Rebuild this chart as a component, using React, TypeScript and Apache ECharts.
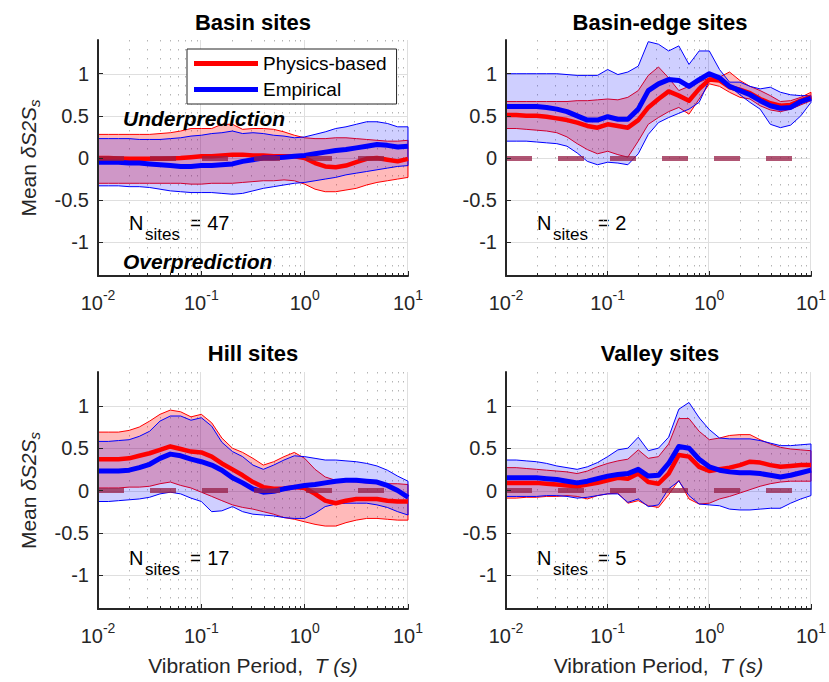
import React, { useEffect, useRef } from 'react';
import * as echarts from 'echarts';

const FONT = '"Liberation Sans", Arial, Helvetica, sans-serif';
const AXIS_COLOR = '#262626';

// Vibration periods (s)
const periods = [0.01, 0.0126, 0.0158, 0.02, 0.0251, 0.0316, 0.0398, 0.0501, 0.0631, 0.0794, 0.1, 0.126, 0.158, 0.2, 0.251, 0.316, 0.398, 0.501, 0.631, 0.794, 1, 1.26, 1.58, 2, 2.51, 3.16, 3.98, 5.01, 6.31, 7.94, 10];

const yTicks = [-1, -0.5, 0, 0.5, 1];
const titles = ['Basin sites', 'Basin-edge sites', 'Hill sites', 'Valley sites'];
const nSites = [47, 2, 17, 5];

// Basin sites
const basinPhysMean = [0.0, 0.0, -0.005, -0.01, -0.01, -0.01, -0.01, -0.005, 0.0, 0.01, 0.02, 0.02, 0.03, 0.04, 0.04, 0.03, 0.03, 0.02, 0.02, 0.02, 0.0, -0.06, -0.1, -0.11, -0.09, -0.05, -0.01, 0.0, -0.02, -0.04, -0.01];
const basinPhysLo = [-0.3, -0.3, -0.3, -0.3, -0.3, -0.3, -0.3, -0.3, -0.3, -0.31, -0.31, -0.3, -0.3, -0.3, -0.29, -0.28, -0.27, -0.27, -0.26, -0.27, -0.31, -0.37, -0.4, -0.4, -0.38, -0.36, -0.32, -0.29, -0.27, -0.25, -0.23];
const basinPhysHi = [0.28, 0.28, 0.28, 0.28, 0.28, 0.28, 0.29, 0.3, 0.32, 0.35, 0.35, 0.35, 0.4, 0.4, 0.34, 0.35, 0.35, 0.34, 0.31, 0.27, 0.24, 0.23, 0.23, 0.24, 0.24, 0.23, 0.22, 0.21, 0.2, 0.2, 0.21];
const basinEmpMean = [-0.05, -0.05, -0.05, -0.06, -0.06, -0.07, -0.08, -0.09, -0.1, -0.1, -0.09, -0.09, -0.08, -0.07, -0.04, -0.02, 0.0, 0.0, 0.01, 0.02, 0.03, 0.05, 0.07, 0.09, 0.1, 0.12, 0.14, 0.16, 0.15, 0.13, 0.14];
const basinEmpLo = [-0.33, -0.33, -0.33, -0.34, -0.34, -0.35, -0.37, -0.39, -0.4, -0.41, -0.41, -0.41, -0.42, -0.43, -0.42, -0.39, -0.36, -0.34, -0.32, -0.3, -0.29, -0.27, -0.25, -0.23, -0.2, -0.18, -0.16, -0.14, -0.12, -0.1, -0.09];
const basinEmpHi = [0.23, 0.23, 0.23, 0.23, 0.22, 0.22, 0.22, 0.23, 0.24, 0.26, 0.27, 0.29, 0.3, 0.32, 0.29, 0.3, 0.29, 0.27, 0.26, 0.24, 0.25, 0.28, 0.31, 0.35, 0.37, 0.4, 0.43, 0.43, 0.41, 0.37, 0.37];

// Basin-edge sites
const edgePhysMean = [0.51, 0.51, 0.5, 0.5, 0.49, 0.47, 0.45, 0.42, 0.38, 0.36, 0.4, 0.38, 0.36, 0.45, 0.6, 0.7, 0.79, 0.74, 0.68, 0.82, 0.93, 0.92, 0.84, 0.81, 0.77, 0.7, 0.65, 0.62, 0.63, 0.68, 0.73];
const edgePhysLo = [0.35, 0.35, 0.34, 0.33, 0.32, 0.3, 0.25, 0.17, 0.1, 0.05, 0.08, 0.04, 0.01, 0.2, 0.4, 0.48, 0.55, 0.6, 0.52, 0.7, 0.88, 0.85, 0.78, 0.72, 0.7, 0.62, 0.57, 0.55, 0.58, 0.63, 0.68];
const edgePhysHi = [0.67, 0.67, 0.67, 0.67, 0.67, 0.67, 0.67, 0.68, 0.68, 0.69, 0.7, 0.69, 0.72, 0.8, 0.98, 1.08, 0.95, 0.8, 0.85, 0.9, 0.95, 0.96, 1.02, 0.92, 0.85, 0.8, 0.74, 0.67, 0.68, 0.72, 0.78];
const edgeEmpMean = [0.61, 0.61, 0.61, 0.61, 0.6, 0.58, 0.55, 0.5, 0.45, 0.45, 0.49, 0.46, 0.46, 0.58, 0.8, 0.88, 0.93, 0.92, 0.85, 0.93, 1.0, 0.95, 0.85, 0.8, 0.75, 0.68, 0.62, 0.59, 0.6, 0.67, 0.71];
const edgeEmpLo = [0.2, 0.2, 0.2, 0.19, 0.18, 0.17, 0.14, 0.06, -0.04, -0.08, -0.05, -0.06, -0.08, 0.05, 0.28, 0.42, 0.48, 0.53, 0.58, 0.66, 0.92, 0.95, 0.85, 0.75, 0.66, 0.58, 0.4, 0.36, 0.39, 0.5, 0.66];
const edgeEmpHi = [1.0, 1.0, 1.0, 1.0, 1.0, 1.0, 0.99, 0.98, 0.98, 0.98, 1.05, 0.99, 1.02, 1.09, 1.38, 1.35, 1.27, 1.33, 1.11, 1.27, 1.27, 1.05, 0.9, 0.9, 0.85, 0.82, 0.84, 0.78, 0.75, 0.74, 0.74];

// Hill sites
const hillPhysMean = [0.37, 0.37, 0.37, 0.38, 0.41, 0.44, 0.48, 0.52, 0.49, 0.46, 0.45, 0.4, 0.32, 0.25, 0.18, 0.1, 0.04, 0.02, 0.02, 0.04, 0.03, -0.04, -0.12, -0.15, -0.12, -0.1, -0.1, -0.1, -0.12, -0.13, -0.13];
const hillPhysLo = [0.03, 0.03, 0.03, 0.04, 0.04, 0.05, 0.08, 0.1, 0.06, 0.03, -0.02, -0.07, -0.12, -0.17, -0.2, -0.22, -0.25, -0.28, -0.32, -0.34, -0.37, -0.4, -0.42, -0.42, -0.38, -0.35, -0.33, -0.33, -0.34, -0.35, -0.35];
const hillPhysHi = [0.69, 0.69, 0.69, 0.71, 0.75, 0.82, 0.9, 0.95, 0.93, 0.87, 0.9, 0.8, 0.62, 0.5, 0.45, 0.38, 0.3, 0.34, 0.4, 0.45, 0.38, 0.25, 0.16, 0.12, 0.11, 0.1, 0.09, 0.09, 0.08, 0.08, 0.07];
const hillEmpMean = [0.23, 0.23, 0.23, 0.24, 0.27, 0.31, 0.38, 0.43, 0.41, 0.37, 0.34, 0.3, 0.24, 0.15, 0.09, 0.02, -0.02, -0.01, 0.02, 0.04, 0.06, 0.07, 0.09, 0.11, 0.12, 0.12, 0.11, 0.1, 0.06, 0.0, -0.08];
const hillEmpLo = [-0.13, -0.13, -0.12, -0.11, -0.1, -0.08, -0.04, -0.02, -0.04, -0.09, -0.13, -0.25, -0.24, -0.19, -0.25, -0.28, -0.29, -0.3, -0.32, -0.33, -0.33, -0.27, -0.19, -0.16, -0.15, -0.15, -0.15, -0.17, -0.2, -0.25, -0.29];
const hillEmpHi = [0.58, 0.58, 0.59, 0.6, 0.64, 0.7, 0.82, 0.88, 0.88, 0.83, 0.86, 0.76, 0.57, 0.46, 0.4, 0.3, 0.25, 0.3, 0.36, 0.41, 0.4, 0.38, 0.36, 0.36, 0.35, 0.34, 0.32, 0.29, 0.24, 0.17, 0.11];

// Valley sites
const valleyPhysMean = [0.09, 0.09, 0.09, 0.09, 0.08, 0.07, 0.06, 0.05, 0.07, 0.09, 0.12, 0.15, 0.14, 0.2, 0.1, 0.08, 0.2, 0.42, 0.4, 0.28, 0.23, 0.25, 0.27, 0.3, 0.34, 0.33, 0.3, 0.28, 0.29, 0.3, 0.3];
const valleyPhysLo = [-0.09, -0.09, -0.08, -0.08, -0.07, -0.07, -0.06, -0.07, -0.1, -0.06, -0.04, -0.03, -0.15, -0.12, -0.18, -0.2, -0.05, 0.12, -0.1, -0.16, -0.15, -0.1, -0.07, -0.03, 0.01, 0.05, 0.08, 0.1, 0.11, 0.11, 0.11];
const valleyPhysHi = [0.27, 0.27, 0.26, 0.25, 0.24, 0.23, 0.22, 0.2, 0.23, 0.28, 0.32, 0.35, 0.37, 0.48, 0.38, 0.4, 0.55, 0.85, 0.85, 0.7, 0.6, 0.62, 0.65, 0.66, 0.66, 0.6, 0.55, 0.51, 0.49, 0.48, 0.47];
const valleyEmpMean = [0.15, 0.15, 0.15, 0.15, 0.14, 0.13, 0.11, 0.09, 0.11, 0.14, 0.17, 0.19, 0.2, 0.25, 0.17, 0.18, 0.32, 0.52, 0.5, 0.37, 0.28, 0.24, 0.22, 0.21, 0.21, 0.2, 0.18, 0.16, 0.18, 0.21, 0.24];
const valleyEmpLo = [-0.07, -0.07, -0.07, -0.07, -0.06, -0.06, -0.07, -0.09, -0.08, -0.06, -0.04, -0.04, -0.14, -0.1, -0.19, -0.17, 0.02, 0.11, -0.06, -0.16, -0.17, -0.18, -0.22, -0.23, -0.23, -0.22, -0.21, -0.21, -0.15, -0.1, -0.06];
const valleyEmpHi = [0.36, 0.36, 0.35, 0.34, 0.32, 0.29, 0.27, 0.25, 0.28, 0.33, 0.4, 0.48, 0.5, 0.63, 0.47, 0.5, 0.63, 0.96, 1.04, 0.86, 0.72, 0.62, 0.61, 0.61, 0.61, 0.59, 0.56, 0.53, 0.53, 0.54, 0.55];

const panels = [
  { phys: [basinPhysMean, basinPhysLo, basinPhysHi], emp: [basinEmpMean, basinEmpLo, basinEmpHi] },
  { phys: [edgePhysMean, edgePhysLo, edgePhysHi], emp: [edgeEmpMean, edgeEmpLo, edgeEmpHi] },
  { phys: [hillPhysMean, hillPhysLo, hillPhysHi], emp: [hillEmpMean, hillEmpLo, hillEmpHi] },
  { phys: [valleyPhysMean, valleyPhysLo, valleyPhysHi], emp: [valleyEmpMean, valleyEmpLo, valleyEmpHi] },
];

const gridRects = [
  { left: 98, top: 40, width: 310, height: 236 },
  { left: 506, top: 40, width: 308, height: 236 },
  { left: 98, top: 372, width: 310, height: 237 },
  { left: 506, top: 372, width: 308, height: 237 },
];

const X_MIN = 0.01;
const X_MAX = 10;
const Y_MIN = -1.4;
const Y_MAX = 1.4;

const decades = [0.01, 0.1, 1];
const minorX: number[] = [];
decades.forEach((d) => {
  for (let m = 2; m <= 9; m++) minorX.push(d * m);
});
const majorX = [0.1, 1, 10];

function decorRender(params: any, api: any) {
  if (params.dataIndex !== 0) return null;
  const children: any[] = [];
  const pBL = api.coord([X_MIN, Y_MIN]);
  const pTR = api.coord([X_MAX, Y_MAX]);
  const x0 = pBL[0];
  const yB = pBL[1];
  const x1 = pTR[0];
  const yT = pTR[1];
  yTicks.forEach((v) => {
    const y = Math.round(api.coord([X_MIN, v])[1]) + 0.5;
    children.push({ type: 'line', shape: { x1: x0, y1: y, x2: x1, y2: y }, style: { stroke: '#dfdfdf', lineWidth: 1 } });
  });
  majorX.forEach((v) => {
    const x = Math.round(api.coord([v, Y_MIN])[0]) - 0.5;
    children.push({ type: 'line', shape: { x1: x, y1: yT, x2: x, y2: yB }, style: { stroke: '#dfdfdf', lineWidth: 1 } });
  });
  minorX.forEach((v) => {
    const x = Math.round(api.coord([v, Y_MIN])[0]) + 0.5;
    children.push({ type: 'line', shape: { x1: x, y1: yT, x2: x, y2: yB }, style: { stroke: '#b4b4b4', lineWidth: 1, lineDash: [1.5, 7.5] } });
    children.push({ type: 'line', shape: { x1: x, y1: yB, x2: x, y2: yB - 3 }, style: { stroke: AXIS_COLOR, lineWidth: 1 } });
  });
  return { type: 'group', children };
}

function makeBandRender(fill: string, stroke: string, len: number) {
  return (params: any, api: any) => {
    if (params.dataIndex !== 0) return null;
    const upper: number[][] = [];
    const lower: number[][] = [];
    for (let j = 0; j < len; j++) {
      const x = api.value(0, j);
      lower.push(api.coord([x, api.value(1, j)]));
      upper.push(api.coord([x, api.value(2, j)]));
    }
    const pts = upper.concat(lower.slice().reverse());
    return {
      type: 'polygon',
      shape: { points: pts },
      style: { fill, stroke, lineWidth: 1 },
    };
  };
}

const tickLabelRich = {
  b: { fontSize: 20, lineHeight: 30, fontFamily: FONT, color: AXIS_COLOR },
  s: { fontSize: 14, lineHeight: 4, verticalAlign: 'top', fontFamily: FONT, color: AXIS_COLOR },
};

function buildOption() {
  const grid = gridRects.map((g) => ({ ...g, containLabel: false }));
  const xAxis = gridRects.map((_, i) => ({
    type: 'log',
    logBase: 10,
    min: X_MIN,
    max: X_MAX,
    gridIndex: i,
    z: 6,
    axisLine: { show: true, onZero: false, lineStyle: { color: AXIS_COLOR, width: 2 } },
    axisTick: { show: true, inside: true, length: 5, lineStyle: { color: AXIS_COLOR, width: 1 } },
    minorTick: { show: false },
    splitLine: { show: false },
    axisLabel: {
      margin: 12,
      formatter: (v: number) => `{b|10}{s|${Math.round(Math.log10(v))}}`,
      rich: tickLabelRich,
    },
    name: i >= 2 ? '{a|Vibration Period,  }{b|T (s)}' : '',
    nameLocation: 'middle',
    nameGap: 44,
    nameTextStyle: {
      rich: {
        a: { fontSize: 21, lineHeight: 24, fontFamily: FONT, color: AXIS_COLOR },
        b: { fontSize: 21, lineHeight: 24, fontFamily: FONT, fontStyle: 'italic', color: AXIS_COLOR },
      },
    },
  }));
  const yAxis = gridRects.map((_, i) => ({
    type: 'value',
    min: Y_MIN,
    max: Y_MAX,
    gridIndex: i,
    z: 6,
    axisLine: { show: true, onZero: false, lineStyle: { color: AXIS_COLOR, width: 2 } },
    axisTick: { show: true, inside: true, length: 5, customValues: yTicks, lineStyle: { color: AXIS_COLOR, width: 1 } },
    axisLabel: {
      customValues: yTicks,
      fontSize: 20,
      fontFamily: FONT,
      color: AXIS_COLOR,
      margin: 9,
      formatter: (v: number) => String(v),
    },
    splitLine: { show: false },
    name: i % 2 === 0 ? '{a|Mean }{b|δS2S}{c|s}' : '',
    nameLocation: 'middle',
    nameRotate: 90,
    nameGap: 56,
    nameTextStyle: {
      rich: {
        a: { fontSize: 21, lineHeight: 28, fontFamily: FONT, color: AXIS_COLOR },
        b: { fontSize: 21, lineHeight: 28, fontFamily: FONT, fontStyle: 'italic', color: AXIS_COLOR },
        c: { fontSize: 15, lineHeight: 12, verticalAlign: 'bottom', fontFamily: FONT, fontStyle: 'italic', color: AXIS_COLOR },
      },
    },
  }));

  const series: any[] = [];
  panels.forEach((p, i) => {
    series.push({
      type: 'custom',
      name: 'grid-decor-' + i,
      xAxisIndex: i,
      yAxisIndex: i,
      silent: true,
      z: 1,
      renderItem: decorRender,
      data: [[X_MIN, 0]],
      encode: { x: 0, y: 1 },
    });
    series.push({
      type: 'custom',
      name: 'phys-band-' + i,
      xAxisIndex: i,
      yAxisIndex: i,
      silent: true,
      z: 2,
      renderItem: makeBandRender('rgba(255,0,0,0.27)', '#ff0000', periods.length),
      data: periods.map((t, j) => [t, p.phys[1][j], p.phys[2][j]]),
      encode: { x: 0, y: [1, 2] },
    });
    series.push({
      type: 'custom',
      name: 'emp-band-' + i,
      xAxisIndex: i,
      yAxisIndex: i,
      silent: true,
      z: 2,
      renderItem: makeBandRender('rgba(0,0,255,0.19)', '#0000ff', periods.length),
      data: periods.map((t, j) => [t, p.emp[1][j], p.emp[2][j]]),
      encode: { x: 0, y: [1, 2] },
    });
    series.push({
      type: 'line',
      name: 'Physics-based',
      xAxisIndex: i,
      yAxisIndex: i,
      color: '#ff0000',
      showSymbol: false,
      symbol: 'none',
      silent: true,
      z: 3,
      lineStyle: { color: '#ff0000', width: 4.5, join: 'round' },
      data: periods.map((t, j) => [t, p.phys[0][j]]),
    });
    series.push({
      type: 'line',
      name: 'Empirical',
      xAxisIndex: i,
      yAxisIndex: i,
      color: '#0000ff',
      showSymbol: false,
      symbol: 'none',
      silent: true,
      z: 3,
      lineStyle: { color: '#0000ff', width: 5, join: 'round' },
      data: periods.map((t, j) => [t, p.emp[0][j]]),
      markLine: {
        silent: true,
        symbol: ['none', 'none'],
        label: { show: false },
        emphasis: { disabled: true },
        lineStyle: { color: 'rgba(150,30,70,0.75)', width: 5, type: [26, 26], cap: 'butt' },
        data: [{ yAxis: 0 }],
      },
    });
  });

  const graphic: any[] = [];
  const titlePos = [
    [253, 22],
    [660, 22],
    [253, 353],
    [660, 353],
  ];
  titles.forEach((t, i) => {
    graphic.push({
      type: 'text',
      x: titlePos[i][0],
      y: titlePos[i][1],
      silent: true,
      style: { text: t, fontSize: 22, fontWeight: 'bold', fontFamily: FONT, fill: '#000', align: 'center', verticalAlign: 'middle' },
    });
  });
  const nPos = [
    [129, 223],
    [537, 223],
    [129, 558],
    [537, 558],
  ];
  nSites.forEach((n, i) => {
    const [x, y] = nPos[i];
    graphic.push({ type: 'text', x, y, silent: true, style: { text: 'N', fontSize: 20, fontFamily: FONT, fill: '#000', align: 'left', verticalAlign: 'middle' } });
    graphic.push({ type: 'text', x: x + 16, y: y + 11, silent: true, style: { text: 'sites', fontSize: 17, fontFamily: FONT, fill: '#000', align: 'left', verticalAlign: 'middle' } });
    graphic.push({ type: 'text', x: x + 61, y, silent: true, style: { text: '= ' + n, fontSize: 20, fontFamily: FONT, fill: '#000', align: 'left', verticalAlign: 'middle' } });
  });
  graphic.push({ type: 'text', x: 123, y: 118, silent: true, z: 10, style: { text: 'Underprediction', fontSize: 21, fontWeight: 'bold', fontStyle: 'italic', fontFamily: FONT, fill: '#000', align: 'left', verticalAlign: 'middle' } });
  graphic.push({ type: 'text', x: 123, y: 261, silent: true, z: 10, style: { text: 'Overprediction', fontSize: 21, fontWeight: 'bold', fontStyle: 'italic', fontFamily: FONT, fill: '#000', align: 'left', verticalAlign: 'middle' } });

  return {
    animation: false,
    backgroundColor: '#ffffff',
    grid,
    xAxis,
    yAxis,
    legend: {
      data: ['Physics-based', 'Empirical'],
      selectedMode: false,
      orient: 'vertical',
      left: 187,
      top: 49,
      icon: 'rect',
      itemWidth: 64,
      itemHeight: 5,
      itemGap: 7,
      padding: [5, 10, 5, 7],
      backgroundColor: '#ffffff',
      borderColor: '#262626',
      borderWidth: 1,
      borderRadius: 0,
      z: 8,
      textStyle: { fontSize: 19, color: '#000', fontFamily: FONT },
    },
    graphic,
    series,
  };
}

export default function App() {
  const ref = useRef<HTMLDivElement>(null);
  useEffect(() => {
    if (!ref.current) return;
    const chart = echarts.init(ref.current, undefined, { renderer: 'svg' });
    chart.setOption(buildOption() as any);
    return () => {
      chart.dispose();
    };
  }, []);
  return (
    <div
      ref={ref}
      style={{ position: 'fixed', left: 0, top: 0, width: 829, height: 682, background: '#fff' }}
    />
  );
}
